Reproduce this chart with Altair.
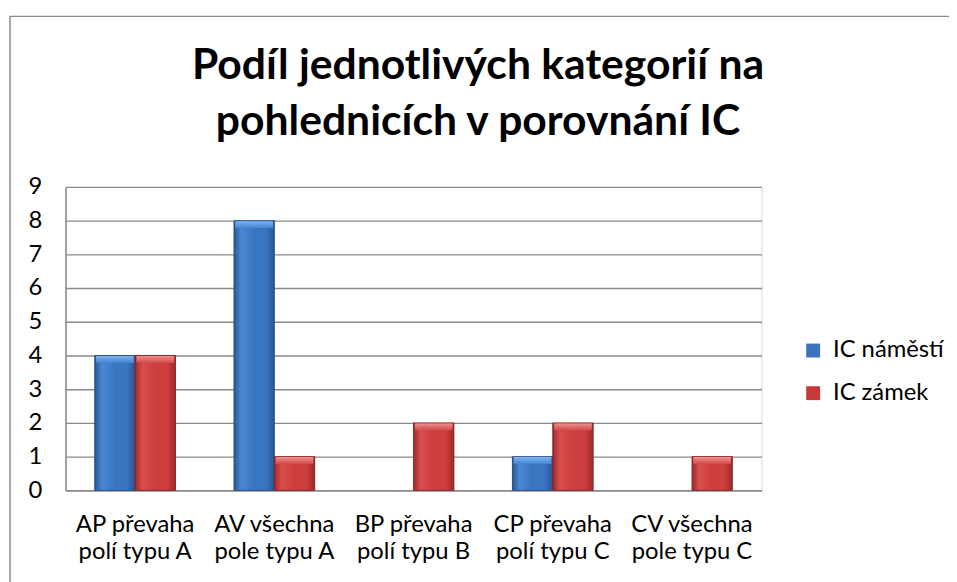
import altair as alt
import pandas as pd

categories = ["AP převaha\npolí typu A", "AV všechna\npole typu A", "BP převaha\npolí typu B",
              "CP převaha\npolí typu C", "CV všechna\npole typu C"]
series_names = ["IC náměstí", "IC zámek"]
values_namesti = [4, 8, 0, 1, 0]
values_zamek = [4, 1, 2, 2, 1]
y_ticks = [0, 1, 2, 3, 4, 5, 6, 7, 8, 9]
title_lines = ["Podíl jednotlivých kategorií na", "pohlednicích v porovnání IC"]

rows = []
for c, a, b in zip(categories, values_namesti, values_zamek):
    rows.append({"kategorie": c, "serie": series_names[0], "hodnota": a})
    rows.append({"kategorie": c, "serie": series_names[1], "hodnota": b})
df = pd.DataFrame(rows)

FONT = "Lato"
W, H = 702, 306

x_enc = alt.X("kategorie:N", sort=categories,
              scale=alt.Scale(paddingInner=0.42, paddingOuter=0.21),
              axis=alt.Axis(title=None, labelAngle=0, ticks=False, labelPadding=23,
                            labelExpr="split(datum.label, '\\n')", labelLineHeight=27,
                            labelFontSize=24, labelFont=FONT, labelColor="black",
                            domainColor="#8a8a8a", domainWidth=1.5))
xoff = alt.XOffset("serie:N", sort=series_names, scale=alt.Scale(domain=series_names))
y_enc = alt.Y("hodnota:Q", scale=alt.Scale(domain=[0, 9], nice=False),
              axis=alt.Axis(title=None, values=y_ticks, labelFontSize=24, labelFont=FONT,
                            labelColor="black", labelPadding=24, ticks=False,
                            domainColor="#8a8a8a", domainWidth=1.5,
                            gridColor="#8a8a8a", gridWidth=1.4))

base = alt.Chart(df).transform_filter("datum.hodnota > 0")

bars = base.mark_bar().encode(
    x=x_enc, xOffset=xoff, y=y_enc,
    color=alt.Color("serie:N", sort=series_names,
                    scale=alt.Scale(domain=series_names, range=["#3b73bd", "#c63a3a"]),
                    legend=alt.Legend(title=None, orient="none", legendX=742, legendY=153,
                                      symbolType="square", symbolSize=196,
                                      symbolStrokeWidth=0, labelFontSize=24,
                                      labelFont=FONT, labelColor="black",
                                      rowPadding=19, labelOffset=8)),
)

def grad(edge, mid, light):
    return alt.Gradient(gradient="linear", x1=0, x2=1, y1=0, y2=0,
                        stops=[alt.GradientStop(color=edge, offset=0),
                               alt.GradientStop(color=light, offset=0.18),
                               alt.GradientStop(color=mid, offset=0.5),
                               alt.GradientStop(color=mid, offset=0.8),
                               alt.GradientStop(color=edge, offset=1)])

def vgrad(top, bottom):
    return alt.Gradient(gradient="linear", x1=0, x2=0, y1=0, y2=1,
                        stops=[alt.GradientStop(color=top, offset=0),
                               alt.GradientStop(color=bottom, offset=1)])

blue_data = base.transform_filter(alt.datum.serie == series_names[0])
red_data = base.transform_filter(alt.datum.serie == series_names[1])

blue = blue_data.mark_bar(
    color=grad("#2a5793", "#3a75c2", "#4a88d4"), stroke="#23497c", strokeWidth=0.8
).encode(x=x_enc, xOffset=xoff, y=y_enc)
red = red_data.mark_bar(
    color=grad("#9c2a2a", "#cd3e3e", "#d94e4e"), stroke="#7e2020", strokeWidth=0.8
).encode(x=x_enc, xOffset=xoff, y=y_enc)

blue_top = blue_data.mark_tick(
    color=vgrad("#7db4f0", "#4383cf"), thickness=7, size=38, yOffset=4, opacity=1
).encode(x=x_enc, xOffset=xoff, y=y_enc)
red_top = red_data.mark_tick(
    color=vgrad("#f09090", "#d24848"), thickness=7, size=38, yOffset=4, opacity=1
).encode(x=x_enc, xOffset=xoff, y=y_enc)

frame = alt.Chart(pd.DataFrame({"a": [0]})).mark_rect(
    fill="white", fillOpacity=0, stroke="#8a8a8a", strokeWidth=1.5, clip=False
).encode(x=alt.value(-56), x2=alt.value(W + 300), y=alt.value(-172), y2=alt.value(H + 200))

title = alt.Chart(pd.DataFrame({"a": [0]})).mark_text(
    font=FONT, fontSize=43, fontWeight="bold", color="black", align="center",
    baseline="alphabetic", lineHeight=57
).encode(x=alt.value(416), y=alt.value(-109), text=alt.value(title_lines))

chart = alt.layer(frame, title, bars, blue, red, blue_top, red_top).properties(
    width=W, height=H,
    autosize=alt.AutoSizeParams(type="none"),
    padding={"left": 58, "top": 178, "right": 189, "bottom": 90},
).configure_view(stroke=None).configure(background="white")

chart.save("out.html", embed_options={"renderer": "svg", "actions": False})
